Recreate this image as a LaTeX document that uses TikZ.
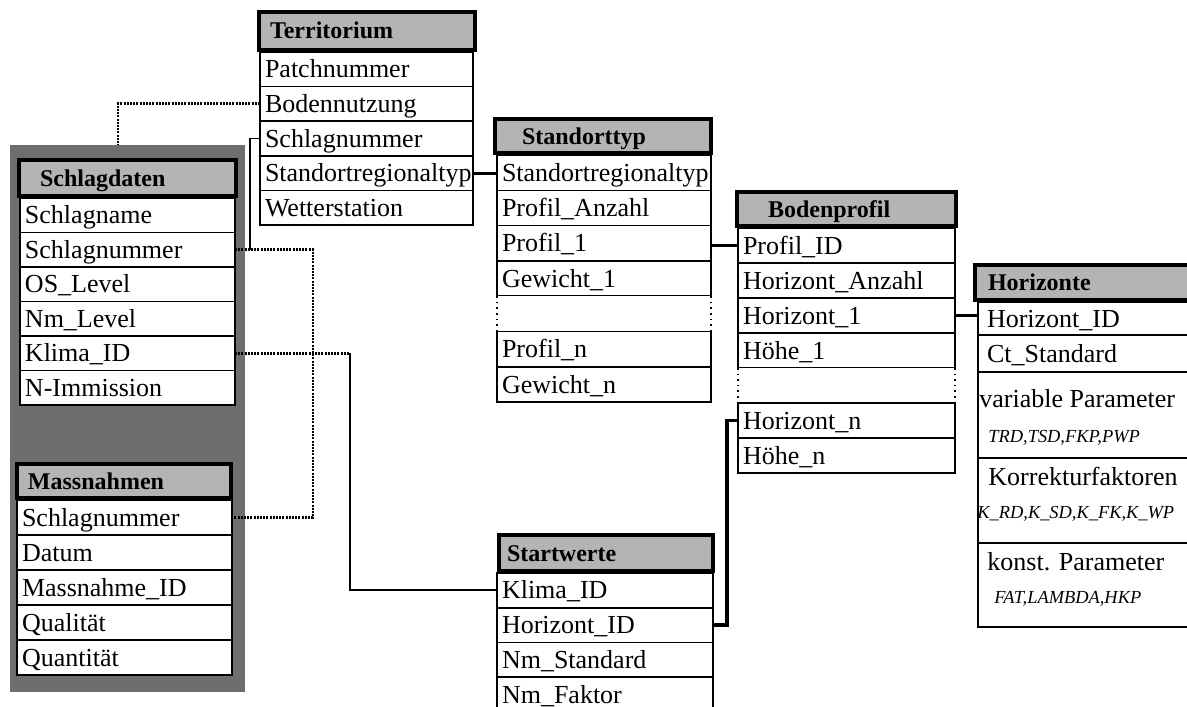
\documentclass[tikz,border=0pt]{standalone}
\usepackage{fontspec}
\setmainfont{Liberation Serif}
\usepackage{xcolor}
\definecolor{hdGray}{HTML}{B4B4B4}
\definecolor{grpGray}{HTML}{6E6E6E}
\usetikzlibrary{positioning}
\tikzset{
  rowbox/.style={draw, fill=white, line width=0.8pt, anchor=north west, outer sep=0pt, inner xsep=2.5pt, inner ysep=0pt, align=left, text height=8.6pt, text depth=0pt, font=\fontsize{13}{15}\selectfont},
  gaprow/.style={rowbox, draw=none},
  headbox/.style={draw, line width=2pt, fill=hdGray, anchor=north west, outer sep=0pt, inner xsep=0pt, inner ysep=0pt, align=left, text height=8pt, text depth=0pt, font=\bfseries\fontsize{12}{14}\selectfont},
  grpbox/.style={fill=grpGray, anchor=north west, outer sep=0pt, inner sep=0pt},
  keylink/.style={line width=1.6pt},
  thinlink/.style={line width=0.9pt},
  dotlink/.style={line width=1.4pt, dash pattern=on 1pt off 0.6pt},
  bigtxt/.style={anchor=base west, inner sep=0pt, font=\fontsize{13}{15}\selectfont},
  smallit/.style={anchor=base west, inner sep=0pt, font=\itshape\fontsize{9.2}{11}\selectfont},
}
\begin{document}
\begin{tikzpicture}[x=0.5pt,y=-0.5pt]
\clip (0,0) rectangle (1187,706);
\fill[white] (0,0) rectangle (1187,706);
% shaded group behind Schlagdaten and Massnahmen
\node[grpbox, minimum width=117.5pt, minimum height=273.5pt] (grp) at (10,145) {};
% Territorium
\foreach \t [count=\i] in {Patchnummer,Bodennutzung,Schlagnummer,Standortregionaltyp,Wetterstation}
  \node[rowbox, text width=101.5pt, minimum height=17.3pt] (ter-\i) at (260,{52+(\i-1)*34.6}) {\t};
\node[headbox, text width=108pt, minimum height=19pt] (ter) at (259,12) {\hspace*{5.5pt}Territorium};
% Schlagdaten
\foreach \t [count=\i] in {Schlagname,Schlagnummer,OS\_Level,Nm\_Level,Klima\_ID,N-Immission}
  \node[rowbox, text width=102.5pt, minimum height=17.25pt] (sd-\i) at (20,{198+(\i-1)*34.5}) {\t};
\node[headbox, text width=108.5pt, minimum height=18pt] (sd) at (19,160) {\hspace*{10.5pt}Schlagdaten};
% Massnahmen
\foreach \t [count=\i] in {Schlagnummer,Datum,Massnahme\_ID,Qualität,Quantität}
  \node[rowbox, text width=102.5pt, minimum height=17.5pt] (ms-\i) at (17,{500+(\i-1)*35}) {\t};
\node[headbox, text width=107pt, minimum height=17pt] (ms) at (17,464) {\hspace*{5.5pt}Massnahmen};
% Standorttyp
\foreach \t/\s [count=\i] in {Standortregionaltyp/rowbox,Profil\_Anzahl/rowbox,Profil\_1/rowbox,Gewicht\_1/rowbox,{}/gaprow,Profil\_n/rowbox,Gewicht\_n/rowbox}
  \node[\s, text width=102pt, minimum height=17.65pt] (st-\i) at (497,{155+(\i-1)*35.3}) {\t};
\draw[dotted, line width=0.8pt] (st-5.north west) -- (st-5.south west) (st-5.north east) -- (st-5.south east);
\node[headbox, text width=108pt, minimum height=17pt] (st) at (495,119) {\hspace*{13.5pt}Standorttyp};
% Bodenprofil
\foreach \t/\s [count=\i] in {Profil\_ID/rowbox,Horizont\_Anzahl/rowbox,Horizont\_1/rowbox,Höhe\_1/rowbox,{}/gaprow,Horizont\_n/rowbox,Höhe\_n/rowbox}
  \node[\s, text width=103.5pt, minimum height=17.5pt] (bp-\i) at (738,{228+(\i-1)*35}) {\t};
\draw[dotted, line width=0.8pt] (bp-5.north west) -- (bp-5.south west) (bp-5.north east) -- (bp-5.south east);
\node[headbox, text width=109.5pt, minimum height=17pt] (bp) at (737,192) {\hspace*{15.5pt}Bodenprofil};
% Horizonte
\node[rowbox, inner xsep=4.5pt, text width=102pt, minimum height=16.5pt] (hor-1) at (978,302) {Horizont\_ID};
\node[rowbox, inner xsep=4.5pt, text width=102pt, minimum height=18.5pt] (hor-2) at (978,335) {Ct\_Standard};
\node[rowbox, text width=106pt, minimum height=43pt] (hor-3) at (978,372) {};
\node[rowbox, text width=106pt, minimum height=42.5pt] (hor-4) at (978,458) {};
\node[rowbox, text width=106pt, minimum height=42pt] (hor-5) at (978,543) {};
\node[bigtxt] (hor-var) at (979,407) {variable Parameter};
\node[smallit] (hor-var-list) at (988,442) {TRD,TSD,FKP,PWP};
\node[bigtxt] (hor-kor) at (988,485) {Korrekturfaktoren};
\node[smallit] (hor-kor-list) at (977,518) {K\_RD,K\_SD,K\_FK,K\_WP};
\node[bigtxt] (hor-kon) at (987,570) {konst. Parameter};
\node[smallit] (hor-kon-list) at (994,603) {FAT,LAMBDA,HKP};
\node[headbox, text width=115pt, minimum height=17.5pt] (hor) at (975,265) {\hspace*{6.5pt}Horizonte};
% Startwerte
\foreach \t [count=\i] in {Klima\_ID,Horizont\_ID,Nm\_Standard,Nm\_Faktor}
  \node[rowbox, text width=103pt, minimum height=17.35pt] (sw-\i) at (497,{573+(\i-1)*34.7}) {\t};
\node[headbox, text width=107pt, minimum height=18pt] (sw) at (499,535) {\hspace*{4pt}Startwerte};
% links
\coordinate (grp-top) at (118,145);
\coordinate (sn-bend) at (250,249.75);
\coordinate (kl-bend) at (350,353.25);
\draw[dotlink] (ter-2.west) -| (grp-top);
\draw[thinlink] (ter-3.west) -| (sn-bend);
\draw[dotlink] (sd-2.east) -| (313,400) |- (ms-1.east);
\draw[dotlink] (sd-5.east) -- (kl-bend);
\draw[thinlink] (kl-bend) |- (sw-1.west);
\draw[keylink] (ter-4.east) -- (ter-4.east -| st-1.west);
\draw[keylink] (st-3.east |- bp-1.west) -- (bp-1.west);
\draw[keylink] (bp-3.east) -- (bp-3.east -| hor-1.west);
\draw[keylink] (bp-6.west) -- ++(-11,0) |- (sw-2.east);
\end{tikzpicture}
\end{document}
